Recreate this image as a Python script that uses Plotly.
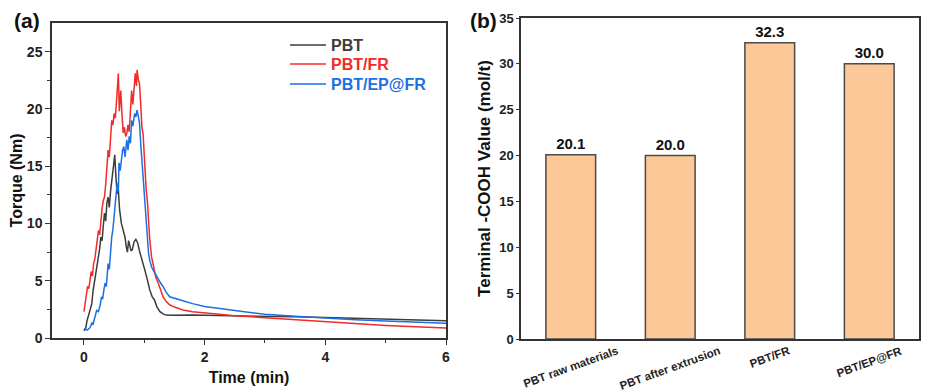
import plotly.graph_objects as go

# The page body adds an 8px margin, so the figure is drawn 8px smaller and
# reference pixel positions are shifted by OFF.
OFF = 8
W, H = 941 - OFF, 392 - OFF

# ---------------- data: panel (a) torque curves ----------------
pbt_t = [0.00, 0.03, 0.05, 0.07, 0.10, 0.13, 0.15, 0.18, 0.20, 0.22, 0.24, 0.26, 0.28, 0.30,
         0.32, 0.34, 0.36, 0.38, 0.40, 0.42, 0.44, 0.46, 0.48, 0.50, 0.51, 0.53, 0.55, 0.57,
         0.59, 0.62, 0.65, 0.68, 0.70, 0.72, 0.74, 0.76, 0.78, 0.80, 0.83, 0.86, 0.89, 0.92,
         0.95, 0.98, 1.01, 1.05, 1.09, 1.13, 1.17, 1.21, 1.26, 1.31, 1.36, 1.45, 1.6, 1.8,
         2.0, 2.5, 3.0, 3.5, 4.0, 4.5, 5.0, 5.5, 6.0]
pbt_v = [0.7, 0.9, 1.5, 1.9, 2.6, 3.0, 4.1, 5.1, 5.5, 6.4, 7.1, 7.8, 8.8, 8.5,
         9.8, 10.9, 10.2, 11.8, 12.3, 11.4, 12.8, 13.5, 14.6, 15.5, 16.0, 14.0, 12.6, 12.9,
         11.2, 10.0, 9.4, 8.8, 8.0, 7.5, 8.5, 8.0, 7.6, 7.7, 8.4, 8.6, 8.3, 7.6,
         7.1, 6.5, 5.9, 5.1, 4.2, 3.6, 3.3, 2.7, 2.3, 2.1, 2.0, 1.98, 2.0, 2.0,
         1.98, 1.95, 1.9, 1.85, 1.78, 1.7, 1.62, 1.56, 1.5]

fr_t = [0.00, 0.02, 0.04, 0.06, 0.08, 0.10, 0.12, 0.14, 0.16, 0.18, 0.20, 0.22, 0.24, 0.26,
        0.28, 0.30, 0.32, 0.34, 0.36, 0.38, 0.40, 0.42, 0.44, 0.46, 0.48, 0.50, 0.52, 0.54,
        0.555, 0.57, 0.585, 0.60, 0.61, 0.63, 0.65, 0.67, 0.69, 0.71, 0.73, 0.75, 0.77, 0.79,
        0.81, 0.83, 0.85, 0.87, 0.88, 0.90, 0.92, 0.94, 0.96, 0.98, 1.00, 1.03, 1.05, 1.07,
        1.09, 1.12, 1.15, 1.19, 1.23, 1.27, 1.31, 1.36, 1.42, 1.5, 1.64, 1.8, 2.0, 2.5,
        3.0, 3.5, 4.0, 4.5, 5.0, 5.5, 6.0]
fr_v = [2.3, 3.0, 3.6, 4.5, 4.3, 5.1, 5.8, 5.4, 6.5, 6.9, 7.8, 8.6, 9.4, 9.0,
        10.6, 11.3, 12.0, 12.3, 13.4, 14.6, 16.4, 15.8, 17.3, 19.0, 18.6, 19.6, 19.2, 20.5,
        21.4, 23.1, 19.8, 20.8, 21.6, 19.5, 17.9, 18.4, 17.6, 17.9, 18.6, 18.0, 19.6, 21.6,
        20.4, 22.1, 23.1, 22.0, 23.4, 22.6, 22.2, 20.4, 18.4, 17.8, 15.5, 13.0, 12.0, 10.2,
        8.6, 7.1, 6.2, 5.3, 4.8, 4.1, 3.6, 3.2, 2.9, 2.7, 2.45, 2.3, 2.2, 1.95,
        1.77, 1.6, 1.42, 1.25, 1.1, 0.98, 0.87]

ep_t = [0.00, 0.03, 0.05, 0.07, 0.10, 0.13, 0.15, 0.18, 0.21, 0.24, 0.27, 0.29, 0.31, 0.33,
        0.35, 0.37, 0.40, 0.42, 0.44, 0.46, 0.48, 0.50, 0.52, 0.53, 0.55, 0.57, 0.58, 0.60,
        0.62, 0.64, 0.66, 0.68, 0.71, 0.73, 0.75, 0.77, 0.79, 0.81, 0.84, 0.86, 0.88, 0.90,
        0.92, 0.94, 0.96, 0.98, 1.01, 1.04, 1.07, 1.09, 1.12, 1.15, 1.19, 1.23, 1.27, 1.31,
        1.36, 1.42, 1.5, 1.64, 1.8, 2.0, 2.5, 3.0, 3.5, 4.0, 4.5, 5.0, 5.5, 6.0]
ep_v = [0.6, 0.8, 0.7, 0.75, 0.9, 1.3, 1.2, 1.7, 2.4, 2.3, 2.9, 3.6, 3.4, 4.2,
        4.8, 4.5, 6.5, 6.0, 7.8, 8.8, 9.5, 10.6, 11.8, 12.6, 13.5, 12.8, 15.3, 14.6,
        15.6, 16.4, 16.7, 15.8, 17.3, 16.4, 17.6, 17.0, 19.0, 18.5, 19.6, 19.3, 19.9, 19.4,
        18.8, 17.0, 15.5, 14.0, 11.4, 8.8, 7.4, 6.8, 6.2, 5.9, 5.5, 5.1, 4.8, 4.5,
        4.0, 3.6, 3.45, 3.25, 3.0, 2.75, 2.4, 2.07, 1.9, 1.72, 1.6, 1.48, 1.38, 1.28]

series_names = ["PBT", "PBT/FR", "PBT/EP@FR"]

# ---------------- data: panel (b) terminal -COOH ----------------
categories = ["PBT raw materials", "PBT after extrusion", "PBT/FR", "PBT/EP@FR"]
cooh_values = [20.1, 20.0, 32.3, 30.0]

# ---------------- styling ----------------
FONT = "Liberation Sans, Arial, sans-serif"
AX = "#333333"
colors = ["#3c3c3c", "#f22a2a", "#1c6fe3"]
legend_ids = ["legend", "legend2", "legend3"]
legend_rows = [45, 64, 84]   # reference pixel rows of the legend entries


def fx(px):
    return (px - OFF) / W


def fy(py):
    return 1 - (py - OFF) / H


fig = go.Figure()

for (t, v), name, c, lg in zip([(pbt_t, pbt_v), (fr_t, fr_v), (ep_t, ep_v)],
                               series_names, colors, legend_ids):
    fig.add_trace(go.Scatter(
        x=t, y=v, mode="lines", name=f"<span style='color:{c}'>{name}</span>",
        line=dict(color=c, width=1.5), xaxis="x", yaxis="y", legend=lg))

fig.add_trace(go.Bar(
    x=categories, y=cooh_values, xaxis="x2", yaxis="y2", width=0.5,
    marker=dict(color="#FDC898", line=dict(color="#4a4a4a", width=1.5)),
    text=[f"{v:.1f}" for v in cooh_values], textposition="outside",
    textfont=dict(family=FONT, size=15, color="#111111", weight="bold"),
    cliponaxis=False, showlegend=False))

tickfont = dict(family=FONT, size=14, color="#222222", weight="bold")
titlefont = dict(family=FONT, size=16, color="#111111", weight="bold")

legend_common = dict(xanchor="left", yanchor="middle", bgcolor="rgba(0,0,0,0)",
                     font=dict(family=FONT, size=16, weight="bold"), itemwidth=36,
                     borderwidth=0)
legends = {}
for lg, row in zip(legend_ids, legend_rows):
    legends[lg] = dict(x=fx(285), y=fy(row), **legend_common)

fig.update_layout(
    width=W, height=H, margin=dict(l=0, r=0, t=0, b=0, autoexpand=False),
    paper_bgcolor="white", plot_bgcolor="white",
    font=dict(family=FONT),
    showlegend=True,
    **legends,
    xaxis=dict(domain=[fx(52), fx(446)], range=[-0.53, 6.0], tickvals=[0, 2, 4, 6],
               showline=True, linecolor=AX, linewidth=1.5, mirror=True, automargin=False,
               ticks="outside", ticklen=5, tickwidth=1.3, tickcolor=AX,
               minor=dict(tickvals=[1, 3, 5], ticks="outside", ticklen=3, tickcolor=AX, tickwidth=1.2),
               showgrid=False, zeroline=False, tickfont=tickfont,
               title=dict(text="Time (min)", font=titlefont, standoff=8)),
    yaxis=dict(domain=[fy(338), fy(23)], range=[0, 27.5], tickvals=[0, 5, 10, 15, 20, 25],
               showline=True, linecolor=AX, linewidth=1.5, mirror=True, automargin=False,
               ticks="outside", ticklen=5, tickwidth=1.3, tickcolor=AX,
               minor=dict(tickvals=[2.5, 7.5, 12.5, 17.5, 22.5], ticks="outside", ticklen=3,
                          tickcolor=AX, tickwidth=1.2),
               showgrid=False, zeroline=False, tickfont=tickfont,
               title=dict(text="Torque (Nm)", font=titlefont, standoff=8)),
    xaxis2=dict(domain=[fx(521), fx(919)], range=[-0.5, 3.5], anchor="y2", automargin=False,
                showline=True, linecolor=AX, linewidth=1.5, mirror=True,
                ticks="", showticklabels=False, showgrid=False, zeroline=False),
    yaxis2=dict(domain=[fy(339), fy(18)], range=[0, 35], anchor="x2",
                tickvals=[0, 5, 10, 15, 20, 25, 30, 35],
                showline=True, linecolor=AX, linewidth=1.5, mirror=True, automargin=False,
                ticks="outside", ticklen=3, tickwidth=1.2, tickcolor=AX,
                showgrid=False, zeroline=False,
                tickfont=dict(family=FONT, size=13, color="#222222", weight="bold"),
                title=dict(text="Terminal -COOH Value (mol/t)",
                           font=dict(family=FONT, size=17, color="#111111", weight="bold"),
                           standoff=4)),
)

# rotated category labels under the bars
for cat in categories:
    fig.add_annotation(x=cat, y=0, xref="x2", yref="y2 domain", yshift=-3,
                       text=cat, textangle=-20, showarrow=False,
                       xanchor="center", yanchor="top",
                       font=dict(family=FONT, size=11.5, color="#222222", weight="bold"))

# panel labels
fig.add_annotation(x=fx(27), y=fy(21), xref="paper", yref="paper", text="(a)",
                   showarrow=False, xanchor="center", yanchor="middle",
                   font=dict(family=FONT, size=21, color="#111111", weight="bold"))
fig.add_annotation(x=fx(483), y=fy(20), xref="paper", yref="paper", text="(b)",
                   showarrow=False, xanchor="center", yanchor="middle",
                   font=dict(family=FONT, size=21, color="#111111", weight="bold"))

fig.write_html("out.html")
